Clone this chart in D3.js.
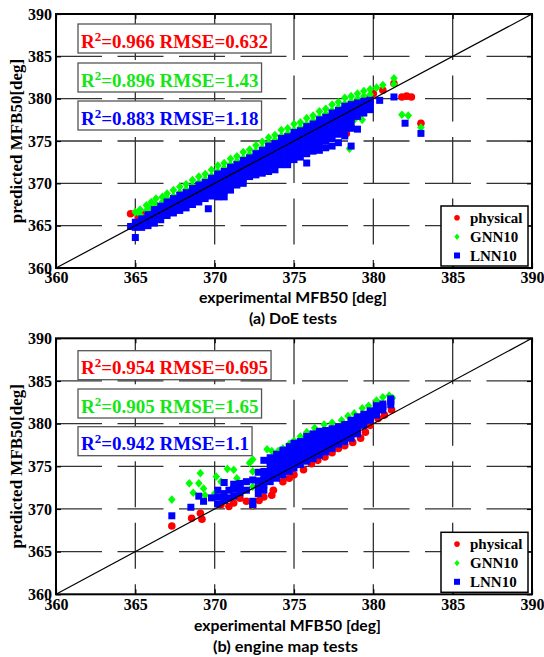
<!DOCTYPE html>
<meta charset="utf-8">
<title>MFB50 prediction</title>
<script src="https://d3js.org/d3.v7.min.js"></script>
<style>
    body { margin: 0; background: #fff; }
    svg  { display: block; }
    .tick text { font-family: "Liberation Serif", serif; font-weight: bold; font-size: 16px; fill: #000; }
    .tick line { stroke: #000; stroke-width: 1.2; }
    .grid line { stroke: #333; stroke-width: 1.3; stroke-dasharray: 46 15.5; }
    .serif { font-family: "Liberation Serif", serif; font-weight: bold; }
    .sans  { font-family: "Lato", "Open Sans", sans-serif; font-weight: bold; }
</style>
<body>
<script>
    // axis ticks and series names
    const ticks       = [360, 365, 370, 375, 380, 385, 390];
    const seriesNames = ["physical", "GNN10", "LNN10"];
    const seriesColor = ["#ff0000", "#00ff00", "#0000ff"];
    const textColor   = ["#ff0000", "#14e614", "#0000ff"];

    // fit statistics
    const doeR2   = ["0.966", "0.896", "0.883"];
    const doeRmse = ["0.632", "1.43", "1.18"];
    const mapR2   = ["0.954", "0.905", "0.942"];
    const mapRmse = ["0.695", "1.65", "1.1"];

    // points, one column per experimental value: [experimental, [predicted...]]
    // (a) DoE tests
    const doePhysical = [
        [364.7,[366.4]], [365.2,[366.0]], [365.6,[366.3]], [366.1,[366.6]], [366.6,[367.0]],
        [367.1,[367.6]], [367.6,[368.0]], [368.1,[368.5]], [368.6,[369.0]], [369.1,[369.5]],
        [369.6,[370.0]], [370.1,[370.4]], [370.6,[370.9]], [371.1,[371.4, 370.0]], [371.6,[371.9]],
        [372.1,[372.4]], [372.6,[372.9]], [373.1,[373.4]], [373.6,[373.9]], [374.1,[374.4]],
        [374.6,[374.9]], [375.1,[375.4]], [375.6,[375.9]], [376.1,[376.4]], [376.6,[376.9, 375.6]],
        [377.1,[377.5]], [377.6,[378.0]], [378.0,[378.5, 376.1]], [378.3,[375.9]], [378.5,[378.9]],
        [379.0,[379.6]], [379.5,[380.0]], [380.0,[380.6]], [380.6,[381.0]], [381.3,[381.8]],
        [381.8,[380.2]], [382.1,[380.3]], [382.4,[380.2]], [383.0,[377.1]]
    ];
    const doeGnn = [
        [365.0,[366.6]], [365.3,[366.9, 366.3]], [365.7,[367.4, 366.8]], [366.0,[367.8, 367.1]],
        [366.3,[368.2, 367.5]], [366.7,[368.4, 367.8]], [367.0,[368.8, 368.2]], [367.4,[369.2, 368.5]],
        [367.8,[369.6, 368.9]], [368.2,[369.9, 369.3]], [368.6,[370.4, 369.7]], [369.0,[370.8, 370.1]],
        [369.4,[371.1, 370.5]], [369.8,[371.6, 370.9]], [370.2,[372.1, 371.4]], [370.6,[372.4, 371.8]],
        [371.0,[372.9, 372.2]], [371.4,[373.2, 372.6]], [371.8,[373.7, 373.0]], [372.2,[374.0, 373.4]],
        [372.6,[374.5, 373.8]], [373.0,[374.9, 374.2]], [373.4,[375.4, 374.7]], [373.8,[375.7, 375.1]],
        [374.2,[376.3, 375.6]], [374.6,[376.5, 375.9, 372.8]], [375.0,[377.0, 376.3]], [375.4,[377.2, 376.6]],
        [375.8,[377.7, 377.0]], [376.2,[378.0, 377.4]], [376.6,[378.5, 377.8]], [377.0,[378.8, 378.2]],
        [377.4,[379.3, 378.6]], [377.8,[379.6, 379.0]], [378.2,[380.1, 379.4]], [378.5,[374.1]],
        [378.6,[380.3, 379.7]], [378.8,[377.5]], [379.0,[380.6, 380.0]], [379.3,[377.5]],
        [379.4,[380.9, 380.3]], [379.8,[381.1, 380.5]], [380.2,[381.3]], [380.6,[381.6]],
        [381.3,[382.4, 381.7]], [381.8,[378.1]], [382.2,[378.0]], [383.0,[376.6]]
    ];
    const doeLnn = [
        [364.7,[364.9]], [365.0,[363.6, 364.8, 365.4]], [365.4,[364.8, 365.3, 365.8]],
        [365.8,[365.0, 365.6, 366.3]], [366.2,[365.3, 365.9, 366.4, 366.9]],
        [366.6,[365.7, 366.3, 366.8, 367.3]], [367.0,[366.2, 366.7, 367.2, 367.8]],
        [367.4,[366.5, 367.0, 367.6, 368.2]], [367.8,[366.8, 367.4, 368.0, 368.6]],
        [368.2,[367.1, 367.7, 368.3, 368.9]], [368.6,[367.5, 368.1, 368.8, 369.4]],
        [369.0,[367.8, 368.4, 369.1, 369.8]], [369.4,[368.2, 368.8, 369.5, 370.1]],
        [369.6,[367.0]], [369.8,[368.5, 369.1, 369.7, 370.2, 370.6]],
        [370.2,[368.4, 369.0, 369.6, 370.1, 370.6, 371.1]],
        [370.6,[368.4, 369.1, 369.7, 370.3, 370.9, 371.4]],
        [371.0,[369.2, 369.8, 370.4, 371.0, 371.5, 371.9]],
        [371.4,[369.8, 370.4, 371.0, 371.6, 372.2]],
        [371.8,[370.0, 370.6, 371.2, 371.8, 372.3, 372.7]],
        [372.2,[370.8, 371.4, 372.0, 372.5, 373.0]],
        [372.6,[371.0, 371.6, 372.2, 372.8, 373.5]],
        [373.0,[371.2, 371.8, 372.4, 373.0, 373.5, 373.9]],
        [373.4,[371.4, 372.0, 372.6, 373.2, 373.8, 374.4]],
        [373.8,[371.6, 372.2, 372.8, 373.4, 374.0, 374.7]],
        [374.2,[372.2, 372.8, 373.4, 374.0, 374.6, 375.3]],
        [374.6,[372.2, 372.8, 373.4, 374.0, 374.6, 375.1, 375.5]],
        [375.0,[372.8, 373.4, 374.0, 374.6, 375.2, 375.6, 376.0]],
        [375.4,[373.1, 373.7, 374.3, 374.9, 375.5, 376.2]],
        [375.8,[372.4, 373.5, 374.1, 374.7, 375.3, 375.9, 376.3, 376.7]],
        [376.2,[373.8, 374.4, 375.0, 375.6, 376.2, 376.6, 377.0]],
        [376.6,[373.9, 374.6, 375.2, 375.8, 376.4, 377.0, 377.5]],
        [377.0,[374.2, 375.0, 375.6, 376.2, 376.8, 377.3, 377.8]],
        [377.4,[374.4, 375.3, 375.9, 376.5, 377.1, 377.7, 378.3]],
        [377.8,[374.8, 375.8, 376.4, 377.0, 377.6, 378.1, 378.6]],
        [378.2,[375.6, 376.4, 377.0, 377.6, 378.2, 378.7, 379.1]],
        [378.6,[374.4, 376.5, 377.1, 377.7, 378.3, 378.8, 379.3]],
        [379.0,[376.4, 377.9, 378.5, 379.0, 379.5]], [379.4,[378.3, 378.9, 379.4, 379.7]],
        [379.8,[378.7, 379.3, 379.8]], [380.4,[379.8]], [381.3,[380.2]],
        [382.0,[377.1]], [383.0,[375.9]]
    ];

    // (b) engine map tests
    const mapPhysical = [
        [367.3,[368.0]], [368.55,[368.9]], [369.1,[369.5]], [369.2,[368.8]], [370.4,[370.5]],
        [370.9,[370.3]], [371.2,[370.7]], [371.6,[371.25]], [372.0,[370.9]], [372.4,[370.35]],
        [372.8,[371.0]], [373.1,[371.4]], [373.6,[371.6]], [373.7,[372.2]], [374.3,[373.2]],
        [374.7,[373.6]], [375.0,[374.0]], [375.6,[374.6]], [376.1,[375.3]], [376.5,[375.7]],
        [376.95,[376.1]], [377.4,[376.6]], [377.8,[377.1]], [378.2,[377.4]], [378.7,[377.8]],
        [379.2,[378.3]], [379.5,[379.0]], [379.8,[379.8]], [380.3,[380.6]], [380.7,[381.0]],
        [381.15,[381.6]]
    ];
    const mapGnn = [
        [367.3,[371.1]], [368.4,[373.0]], [368.65,[371.9]], [369.0,[373.0]], [369.1,[374.2]],
        [369.3,[372.4]], [369.4,[371.6]], [370.0,[371.8]], [370.1,[373.8]], [370.4,[373.2]],
        [370.8,[374.7]], [371.2,[374.6]], [371.4,[373.6]], [372.2,[375.4]], [372.4,[375.8, 374.4, 372.6, 370.4]],
        [373.3,[377.0]], [373.6,[376.8]], [374.0,[376.8]], [374.3,[377.1]], [374.7,[377.6]],
        [375.0,[378.0]], [375.4,[378.5]], [375.8,[379.0]], [376.3,[379.5]], [376.9,[379.9]],
        [377.4,[380.1]], [378.0,[380.4]], [378.4,[380.9]], [378.8,[381.2]], [379.3,[381.8]],
        [379.7,[382.1]], [380.2,[382.7]], [380.6,[383.1]], [381.0,[383.3]], [381.2,[383.0]]
    ];
    const mapLnn = [
        [367.3,[369.2]], [368.5,[370.2]], [369.0,[371.5]], [369.3,[370.9]], [369.8,[371.3]],
        [370.2,[370.6, 371.4, 372.2]], [370.6,[371.0, 371.8, 373.1]], [370.9,[371.3, 372.2]],
        [371.2,[371.5, 372.3, 372.9]], [371.6,[371.9, 372.6, 373.0]], [372.0,[372.2, 373.2]],
        [372.4,[370.5, 370.9, 373.4]], [372.75,[371.8, 372.5, 373.3, 374.3]],
        [373.1,[372.2, 372.8, 373.4, 374.0, 374.4, 375.7]], [373.5,[373.2, 373.8, 374.4, 375.0, 375.6, 376.0]],
        [373.9,[373.6, 374.2, 374.8, 375.4, 375.9, 376.4]], [374.3,[374.0, 374.6, 375.2, 375.8, 376.4, 376.9]],
        [374.7,[374.4, 375.0, 375.6, 376.2, 376.8, 377.3]], [375.0,[374.8, 375.4, 376.0, 376.6, 377.2, 377.7]],
        [375.4,[375.2, 375.8, 376.4, 377.0, 377.5, 377.9]], [375.8,[375.6, 376.2, 376.8, 377.4, 377.9, 378.5]],
        [376.2,[375.9, 376.5, 377.1, 377.7, 378.2, 378.8]], [376.6,[376.3, 376.9, 377.5, 378.1, 378.6, 379.1]],
        [377.0,[376.7, 377.3, 377.9, 378.5, 378.9, 379.2]], [377.4,[377.1, 377.7, 378.3, 378.9, 379.4]],
        [377.8,[377.6, 378.2, 378.8, 379.3, 379.6]], [378.2,[377.9, 378.5, 379.1, 379.6, 379.9]],
        [378.6,[378.3, 378.9, 379.5, 380.0, 380.4]], [379.0,[378.8, 379.4, 380.0, 380.5, 380.8]],
        [379.4,[379.8, 380.4, 380.8, 381.1]], [379.8,[380.4, 381.0, 381.5]],
        [380.2,[381.0, 381.6, 382.1]], [380.6,[381.6, 382.0, 382.3]], [381.1,[382.2, 382.6, 382.9]]
    ];

    // SVG constraints
    const width  = 544;
    const height = 657;
    const left   = 56;
    const right  = 532;

    const panels = [
        { top: 14,    bottom: 268,   physical: doePhysical, gnn: doeGnn, lnn: doeLnn,
          r2: doeR2, rmse: doeRmse, boxTops: [24, 63, 101],
          xlabelX: 199, xlabelY: 303, xlabelW: 188,
          caption: "(a) DoE tests", captionX: 249, captionY: 323.5, captionW: 88 },
        { top: 338.3, bottom: 594.3, physical: mapPhysical, gnn: mapGnn, lnn: mapLnn,
          r2: mapR2, rmse: mapRmse, boxTops: [350.7, 389, 426.7],
          xlabelX: 194, xlabelY: 631, xlabelW: 187,
          caption: "(b) engine map tests", captionX: 213, captionY: 651.5, captionW: 145 }
    ];

    const toPoints = cols => cols.flatMap(([x, ys]) => ys.map(y => ({ x: x, y: y })));
    const diamond  = (hw, hh) => `M0,${-hh}L${hw},0L0,${hh}L${-hw},0Z`;

    const svg = d3.select("body")
                  .append("svg")
                  .attr("width", width)
                  .attr("height", height);

    panels.forEach(p => {
        const xScale = d3.scaleLinear().domain([360, 390]).range([left, right]);
        const yScale = d3.scaleLinear().domain([360, 390]).range([p.bottom, p.top]);
        const g = svg.append("g");

        // dashed grid
        const grid = g.append("g").attr("class", "grid");
        ticks.slice(1, -1).forEach(v => {
            grid.append("line")
                .attr("x1", left).attr("x2", right)
                .attr("y1", yScale(v)).attr("y2", yScale(v));
            grid.append("line")
                .attr("x1", xScale(v)).attr("x2", xScale(v))
                .attr("y1", p.top).attr("y2", p.bottom);
        });

        // statistic boxes
        p.r2.forEach((r2, i) => {
            const t = g.append("text")
                       .attr("class", "serif")
                       .attr("x", 81)
                       .attr("y", p.boxTops[i] + 23.5)
                       .attr("font-size", 19)
                       .attr("fill", textColor[i]);
            t.append("tspan").text("R");
            t.append("tspan").attr("dy", -7).attr("font-size", 13).text("2");
            t.append("tspan").attr("dy", 7).text("=" + r2 + " RMSE=" + p.rmse[i]);
            const bb = t.node().getBBox();
            g.insert("rect", "text")
                .attr("x", 78)
                .attr("y", p.boxTops[i])
                .attr("width", bb.width + 6)
                .attr("height", 29)
                .attr("fill", "#fff")
                .attr("stroke", "#555")
                .attr("stroke-width", 1.3);
        });

        // markers: physical, then GNN10, then LNN10 on top
        g.append("g").selectAll("circle")
            .data(toPoints(p.physical))
            .join("circle")
            .attr("cx", d => xScale(d.x))
            .attr("cy", d => yScale(d.y))
            .attr("r", 3.8)
            .attr("fill", seriesColor[0]);

        g.append("g").selectAll("path")
            .data(toPoints(p.gnn))
            .join("path")
            .attr("d", diamond(3.8, 4.3))
            .attr("transform", d => `translate(${xScale(d.x)},${yScale(d.y)})`)
            .attr("fill", seriesColor[1]);

        g.append("g").selectAll("rect")
            .data(toPoints(p.lnn))
            .join("rect")
            .attr("x", d => xScale(d.x) - 3.5)
            .attr("y", d => yScale(d.y) - 3.5)
            .attr("width", 7)
            .attr("height", 7)
            .attr("fill", seriesColor[2]);

        // 1:1 line
        g.append("line")
            .attr("x1", xScale(360)).attr("y1", yScale(360))
            .attr("x2", xScale(390)).attr("y2", yScale(390))
            .attr("stroke", "#000")
            .attr("stroke-width", 1.2);

        // axes, ticks inside on all four sides
        g.append("g")
            .attr("transform", `translate(${left},0)`)
            .call(d3.axisLeft(yScale).tickValues(ticks).tickSize(-5).tickPadding(4).tickFormat(d3.format("d")))
            .call(a => a.select(".domain").remove());
        g.append("g")
            .attr("transform", `translate(0,${p.bottom})`)
            .call(d3.axisBottom(xScale).tickValues(ticks).tickSize(-5).tickPadding(4).tickFormat(d3.format("d")))
            .call(a => a.select(".domain").remove());
        g.append("g")
            .attr("transform", `translate(0,${p.top})`)
            .call(d3.axisTop(xScale).tickValues(ticks).tickSize(-5).tickFormat(""))
            .call(a => a.select(".domain").remove());
        g.append("g")
            .attr("transform", `translate(${right},0)`)
            .call(d3.axisRight(yScale).tickValues(ticks).tickSize(-5).tickFormat(""))
            .call(a => a.select(".domain").remove());

        g.append("rect")
            .attr("x", left).attr("y", p.top)
            .attr("width", right - left).attr("height", p.bottom - p.top)
            .attr("fill", "none")
            .attr("stroke", "#000")
            .attr("stroke-width", 2);

        // legend
        const ly = p.bottom - 62;
        g.append("rect")
            .attr("x", 441).attr("y", ly)
            .attr("width", 87).attr("height", 60)
            .attr("fill", "#fff")
            .attr("stroke", "#000")
            .attr("stroke-width", 1.5);
        const rows = [11.8, 30.8, 49.5];
        g.append("circle").attr("cx", 457).attr("cy", ly + rows[0]).attr("r", 2.8).attr("fill", seriesColor[0]);
        g.append("path").attr("d", diamond(2.6, 3.2))
            .attr("transform", `translate(457,${ly + rows[1]})`).attr("fill", seriesColor[1]);
        g.append("rect").attr("x", 454).attr("y", ly + rows[2] - 3).attr("width", 6).attr("height", 6).attr("fill", seriesColor[2]);
        seriesNames.forEach((name, i) => {
            g.append("text")
                .attr("class", "serif")
                .attr("x", 470)
                .attr("y", ly + rows[i] + 5)
                .attr("font-size", 15)
                .text(name);
        });

        // axis titles
        g.append("text")
            .attr("class", "serif")
            .attr("transform", `translate(22,${(p.top + p.bottom) / 2}) rotate(-90)`)
            .attr("text-anchor", "middle")
            .attr("font-size", 17)
            .text("predicted MFB50[deg]");
        g.append("text")
            .attr("class", "sans")
            .attr("x", p.xlabelX)
            .attr("y", p.xlabelY)
            .attr("font-size", 16)
            .attr("textLength", p.xlabelW)
            .attr("lengthAdjust", "spacingAndGlyphs")
            .text("experimental MFB50 [deg]");
        g.append("text")
            .attr("class", "sans")
            .attr("x", p.captionX)
            .attr("y", p.captionY)
            .attr("font-size", 16)
            .attr("textLength", p.captionW)
            .attr("lengthAdjust", "spacingAndGlyphs")
            .text(p.caption);
    });
</script>
